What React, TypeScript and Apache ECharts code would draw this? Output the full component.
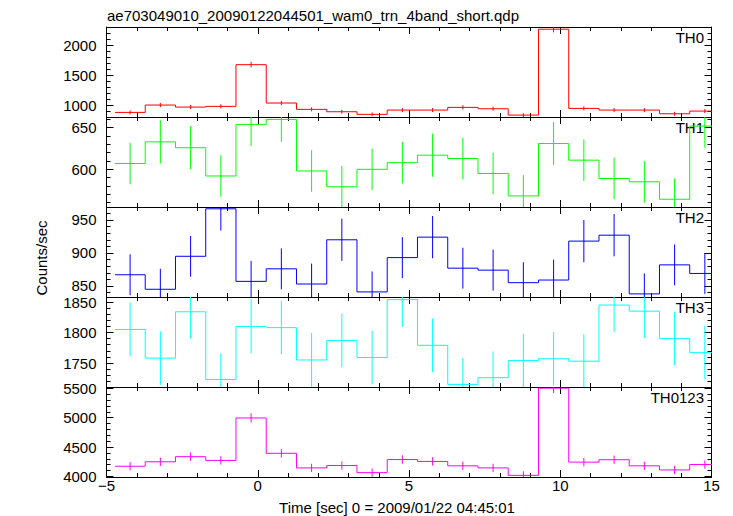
import React, { useEffect, useRef } from "react";
import * as echarts from "echarts";

const titleText = "ae703049010_20090122044501_wam0_trn_4band_short.qdp";
const xLabelText = "Time [sec] 0 = 2009/01/22 04:45:01";
const yLabelText = "Counts/sec";

const binCenters = [-4.22, -3.22, -2.22, -1.22, -0.22, 0.78, 1.78, 2.78, 3.78, 4.78, 5.78, 6.78, 7.78, 8.78, 9.78, 10.78, 11.78, 12.78, 13.78, 14.78];
const binHalfWidth = 0.5;

const th0 = [877, 1000, 966, 978, 1676, 1034, 928, 888, 844, 916, 916, 961, 938, 832, 2270, 944, 916, 916, 854, 899];
const th0Err = [35, 36, 35, 35, 47, 36, 34, 33, 32, 34, 34, 35, 34, 32, 52, 34, 34, 34, 33, 34];

const th1 = [607, 633, 626, 592, 654, 660, 598, 579, 600, 608, 617, 613, 595, 568, 631, 611, 589, 585, 564, 652];
const th1Err = [25, 26, 26, 25, 26, 27, 25, 25, 25, 25, 26, 25, 25, 25, 26, 25, 25, 25, 25, 26];

const th2 = [867, 845, 895, 967, 857, 876, 853, 920, 841, 893, 924, 877, 874, 855, 859, 918, 927, 838, 882, 869];
const th2Err = [31, 31, 31, 33, 31, 31, 31, 32, 31, 31, 32, 31, 31, 31, 31, 32, 32, 31, 31, 31];

const th3 = [1805, 1758, 1834, 1723, 1810, 1808, 1755, 1787, 1759, 1854, 1779, 1715, 1726, 1754, 1757, 1753, 1845, 1835, 1790, 1767];
const th3Err = [44, 44, 44, 43, 44, 44, 44, 44, 44, 45, 44, 43, 43, 44, 44, 44, 44, 44, 44, 44];

const th0123 = [4173, 4249, 4336, 4272, 4995, 4393, 4145, 4185, 4064, 4287, 4255, 4180, 4145, 4018, 5502, 4243, 4284, 4180, 4110, 4203];
const th0123Err = [70, 71, 72, 71, 78, 72, 70, 70, 69, 72, 71, 70, 70, 69, 85, 71, 71, 70, 70, 71];

const panelNames = ["TH0", "TH1", "TH2", "TH3", "TH0123"];
const panelValues = [th0, th1, th2, th3, th0123];
const panelErrors = [th0Err, th1Err, th2Err, th3Err, th0123Err];
const panelColors = ["#ff0000", "#00ff00", "#0000ff", "#00ffff", "#ff00ff"];
const panelYMin = [800, 554.7, 833.3, 1710.7, 3990];
const panelYMax = [2307, 662.9, 969.7, 1858.2, 5522];
const panelMajorTicks = [
  [1000, 1500, 2000],
  [600, 650],
  [850, 900, 950],
  [1750, 1800, 1850],
  [4000, 4500, 5000, 5500],
];
const panelMinorStep = [100, 10, 10, 10, 100];

const xMin = -5;
const xMax = 15;
const xInterval = 5;

const FONT = "'Liberation Sans', Arial, Helvetica, sans-serif";

export default function App() {
  const ref = useRef<HTMLDivElement>(null);

  useEffect(() => {
    if (!ref.current) return;
    const chart = echarts.init(ref.current, null, { renderer: "svg" });

    const gridLeft = 106.5;
    const gridRight = 21.5;
    const firstTop = 27;
    const panelH = 90;

    const grids: any[] = [];
    const xAxes: any[] = [];
    const yAxes: any[] = [];
    const series: any[] = [];
    const graphics: any[] = [];

    const lineStyleAxis = { color: "#000", width: 1 };

    for (let i = 0; i < 5; i++) {
      const top = firstTop + i * panelH;
      grids.push({ left: gridLeft, right: gridRight, top, height: panelH, containLabel: false });

      const isLast = i === 4;
      const xBase = {
        type: "value",
        gridIndex: i,
        min: xMin,
        max: xMax,
        interval: xInterval,
        axisLine: { show: true, onZero: false, lineStyle: lineStyleAxis },
        axisTick: { show: true, inside: true, length: 7, lineStyle: lineStyleAxis },
        minorTick: { show: true, splitNumber: 5, length: 4, lineStyle: lineStyleAxis },
        splitLine: { show: false },
        minorSplitLine: { show: false },
      };
      xAxes.push({
        ...xBase,
        position: "bottom",
        axisLabel: {
          show: isLast,
          margin: 1,
          fontSize: 15,
          fontFamily: FONT,
          color: "#000",
          formatter: (v: number) => String(v).replace("-", "\u2212"),
        },
      });
      xAxes.push({ ...xBase, position: "top", axisLabel: { show: false } });

      const minor: number[] = [];
      const step = panelMinorStep[i];
      for (let v = Math.ceil(panelYMin[i] / step) * step; v <= panelYMax[i]; v += step) minor.push(v);

      const yBase = {
        type: "value",
        gridIndex: i,
        min: panelYMin[i],
        max: panelYMax[i],
        splitLine: { show: false },
      };
      for (const pos of ["left", "right"]) {
        yAxes.push({
          ...yBase,
          position: pos,
          axisLine: { show: true, onZero: false, lineStyle: lineStyleAxis },
          axisTick: { show: true, inside: true, length: 7, lineStyle: lineStyleAxis, customValues: panelMajorTicks[i] },
          axisLabel: {
            show: pos === "left",
            margin: 10,
            fontSize: 15,
            fontFamily: FONT,
            color: "#000",
            customValues: panelMajorTicks[i],
            formatter: (v: number) => String(v),
          },
        });
        yAxes.push({
          ...yBase,
          position: pos,
          axisLine: { show: false, onZero: false },
          axisTick: { show: true, inside: true, length: 4, lineStyle: lineStyleAxis, customValues: minor },
          axisLabel: { show: false },
        });
      }

      const vals = panelValues[i];
      const errs = panelErrors[i];
      const stepData: number[][] = binCenters.map((c, k) => [c - binHalfWidth, vals[k]]);
      stepData.push([binCenters[binCenters.length - 1] + binHalfWidth, vals[vals.length - 1]]);
      const color = panelColors[i];

      series.push({
        type: "line",
        name: panelNames[i],
        xAxisIndex: 2 * i,
        yAxisIndex: 4 * i,
        data: stepData,
        step: "end",
        showSymbol: false,
        symbol: "none",
        clip: true,
        lineStyle: { color, width: 1 },
        itemStyle: { color },
        silent: true,
      });
      series.push({
        type: "custom",
        xAxisIndex: 2 * i,
        yAxisIndex: 4 * i,
        clip: true,
        silent: true,
        data: binCenters.map((c, k) => [c, vals[k], errs[k]]),
        encode: { x: 0, y: 1 },
        renderItem: (params: any, api: any) => {
          const x = api.value(0);
          const y = api.value(1);
          const e = api.value(2);
          const p1 = api.coord([x, y - e]);
          const p2 = api.coord([x, y + e]);
          return {
            type: "line",
            shape: { x1: p1[0], y1: p1[1], x2: p2[0], y2: p2[1] },
            style: { stroke: color, lineWidth: 1 },
          };
        },
      });

      graphics.push({
        type: "text",
        right: 733 - 704,
        top: top + 3,
        style: { text: panelNames[i], fontSize: 15, fontFamily: FONT, fill: "#000" },
      });
    }

    graphics.push({
      type: "text",
      x: 107,
      y: 15,
      style: { text: titleText, fontSize: 15, fontFamily: FONT, fill: "#000", textAlign: "left", textVerticalAlign: "middle" },
    });
    graphics.push({
      type: "text",
      x: 397,
      y: 507,
      style: { text: xLabelText, fontSize: 15, fontFamily: FONT, fill: "#000", textAlign: "center", textVerticalAlign: "middle" },
    });
    graphics.push({
      type: "text",
      x: 41,
      y: 258,
      rotation: Math.PI / 2,
      style: { text: yLabelText, fontSize: 15, fontFamily: FONT, fill: "#000", textAlign: "center", textVerticalAlign: "middle" },
    });

    chart.setOption({
      animation: false,
      backgroundColor: "#ffffff",
      grid: grids,
      xAxis: xAxes,
      yAxis: yAxes,
      series,
      graphic: graphics,
    });

    return () => chart.dispose();
  }, []);

  return <div ref={ref} style={{ position: "fixed", left: 0, top: 0, width: 733, height: 516 }} />;
}
